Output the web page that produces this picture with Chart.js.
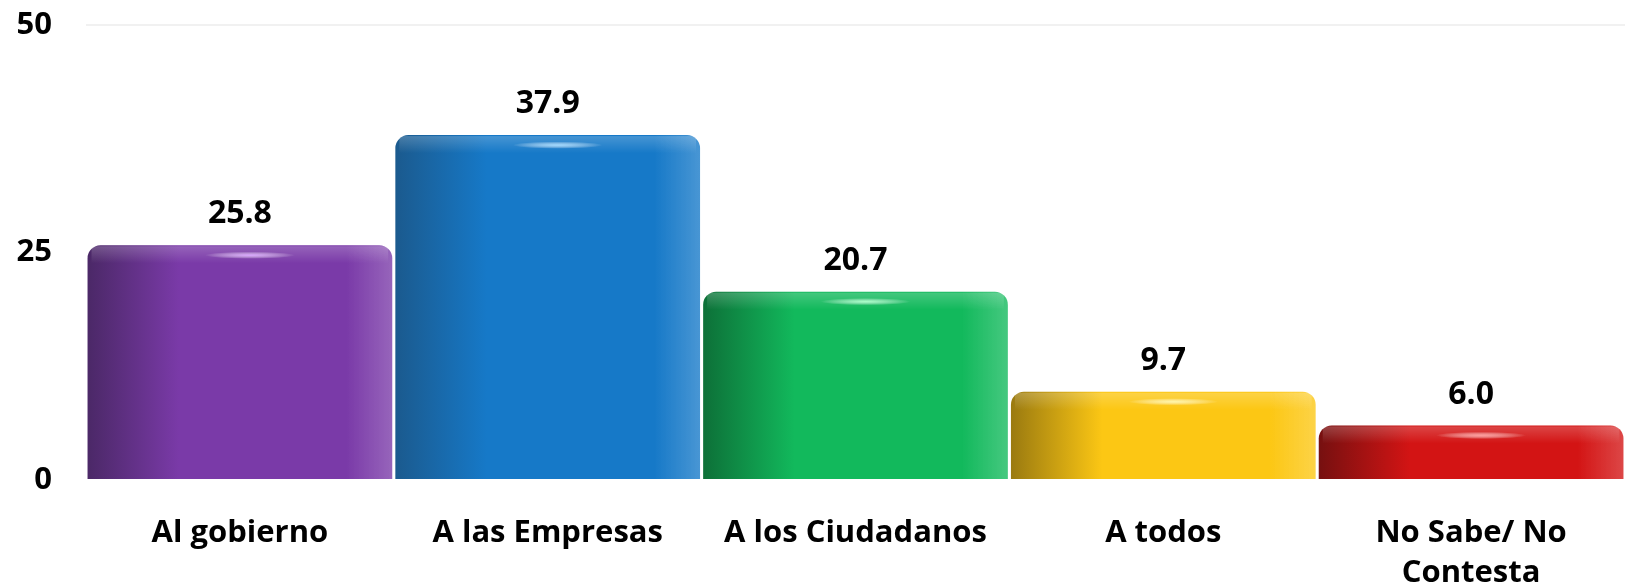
<!DOCTYPE html>
<html>
<head>
<meta charset="utf-8">
<script src="https://cdn.jsdelivr.net/npm/chart.js@4.4.1/dist/chart.umd.min.js"></script>
<style>
  html, body { margin: 0; padding: 0; background: #fff; }
  #wrap { width: 1625px; height: 587px; position: relative; }
</style>
</head>
<body>
<div id="wrap"><canvas id="myChart"></canvas></div>
<script>
'use strict';
const categories = ['Al gobierno', 'A las Empresas', 'A los Ciudadanos', 'A todos', ['No Sabe/ No', 'Contesta']];
const values = [25.8, 37.9, 20.7, 9.7, 6.0];
const yTicks = [0, 25, 50];
// dark edge, main colour, light shine for each bar
const darkColors = ['#4b2867', '#1b5a8e', '#0d7038', '#9a7a10', '#761010'];
const mainColors = ['#7a3aa8', '#1679c8', '#12b95c', '#fcc714', '#d31414'];
const shineColors = ['#d9a6ff', '#9fd8ff', '#a8ffc8', '#fff6a8', '#ff9a9a'];

const FONT = '"Open Sans", "Liberation Sans", sans-serif';

function barGradient(context) {
  const chart = context.chart;
  const area = chart.chartArea;
  const i = context.dataIndex;
  if (!area) return mainColors[i];
  const xScale = chart.scales.x;
  const half = (xScale.width / categories.length) * 0.99 / 2;
  const cx = xScale.getPixelForValue(i);
  const g = chart.ctx.createLinearGradient(cx - half, 0, cx + half, 0);
  g.addColorStop(0, darkColors[i]);
  g.addColorStop(0.3, mainColors[i]);
  g.addColorStop(0.85, mainColors[i]);
  g.addColorStop(1, mainColors[i] + 'c8');
  return g;
}

// glossy top highlight and value labels
const topPlugin = {
  id: 'topPlugin',
  afterDatasetsDraw(chart) {
    const ctx = chart.ctx;
    const meta = chart.getDatasetMeta(0);
    meta.data.forEach((bar, i) => {
      const w = bar.width;
      ctx.save();
      const rim = ctx.createLinearGradient(0, bar.y, 0, bar.y + 18);
      rim.addColorStop(0, 'rgba(255,255,255,0.22)');
      rim.addColorStop(1, 'rgba(255,255,255,0)');
      ctx.fillStyle = rim;
      ctx.fillRect(bar.x - w / 2 + 4, bar.y + 1, w - 8, 18);
      const sx = bar.x + 10, sy = bar.y + 10;
      const sg = ctx.createRadialGradient(sx, sy, 0, sx, sy, 45);
      sg.addColorStop(0, shineColors[i]);
      sg.addColorStop(1, 'rgba(255,255,255,0)');
      ctx.translate(sx, sy);
      ctx.scale(1, 0.08);
      ctx.translate(-sx, -sy);
      ctx.fillStyle = sg;
      ctx.beginPath();
      ctx.arc(sx, sy, 45, 0, Math.PI * 2);
      ctx.fill();
      ctx.restore();

      ctx.save();
      ctx.font = 'bold 32px ' + FONT;
      ctx.fillStyle = '#000';
      ctx.textAlign = 'center';
      ctx.textBaseline = 'middle';
      ctx.fillText(values[i].toFixed(1), bar.x, bar.y - 31);
      ctx.restore();
    });
  }
};

const ctx = document.getElementById('myChart').getContext('2d');
const chart = new Chart(ctx, {
  type: 'bar',
  data: {
    labels: categories,
    datasets: [{
      data: values,
      backgroundColor: barGradient,
      borderWidth: 0,
      borderRadius: { topLeft: 13, topRight: 13, bottomLeft: 0, bottomRight: 0 },
      borderSkipped: 'start',
      barPercentage: 1,
      categoryPercentage: 0.99
    }]
  },
  options: {
    responsive: true,
    maintainAspectRatio: false,
    animation: false,
    layout: { padding: { top: 25, right: 0, left: 0, bottom: 0 } },
    plugins: {
      legend: { display: false },
      tooltip: { enabled: false }
    },
    scales: {
      x: {
        grid: { display: false },
        border: { display: false },
        ticks: {
          color: '#000',
          font: { family: FONT, size: 31, weight: 'bold', lineHeight: 1.3 },
          padding: 25,
          maxRotation: 0,
          autoSkip: false
        },
        afterFit(scale) { scale.height = 107; }
      },
      y: {
        min: 0,
        max: 50,
        afterBuildTicks(scale) { scale.ticks = yTicks.map(v => ({ value: v })); },
        grid: {
          drawTicks: false,
          color: c => (c.tick && c.tick.value === 50 ? '#f1f1f1' : 'rgba(0,0,0,0)'),
          lineWidth: 2
        },
        border: { display: false },
        ticks: {
          color: '#000',
          font: { family: FONT, size: 31, weight: 'bold' },
          padding: 34
        },
        afterFit(scale) {
          scale.width = 86;
          scale.paddingTop = 0;
          scale.paddingBottom = 0;
        }
      }
    }
  },
  plugins: [topPlugin]
});
</script>
</body>
</html>
